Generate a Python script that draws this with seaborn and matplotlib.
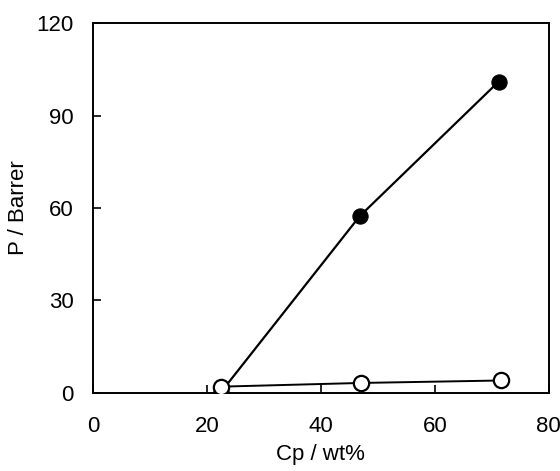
import matplotlib
matplotlib.use("Agg")
import matplotlib.pyplot as plt
import seaborn as sns
import pandas as pd

# data
cp_filled = [22.5, 46.8, 71.2]
p_filled = [0.3, 57.3, 101.0]
cp_open = [22.5, 47.0, 71.6]
p_open = [2.0, 3.2, 4.0]

x_ticks = [0, 20, 40, 60, 80]
y_ticks = [0, 30, 60, 90, 120]

sns.set_style("white")
plt.rcParams['font.family'] = ['Liberation Sans', 'DejaVu Sans']
plt.rcParams['text.color'] = 'black'
plt.rcParams['axes.labelcolor'] = 'black'
plt.rcParams['xtick.color'] = 'black'
plt.rcParams['ytick.color'] = 'black'

df_filled = pd.DataFrame({"Cp": cp_filled, "P": p_filled})
df_open = pd.DataFrame({"Cp": cp_open, "P": p_open})

fig = plt.figure(figsize=(5.6, 4.71), dpi=100)
ax = fig.add_axes([0.166, 0.166, 0.814, 0.785])

sns.lineplot(data=df_open, x="Cp", y="P", ax=ax, color="black", lw=1.4,
             marker="o", markersize=11, markerfacecolor="white",
             markeredgecolor="black", markeredgewidth=1.6, zorder=3)
sns.lineplot(data=df_filled, x="Cp", y="P", ax=ax, color="black", lw=1.6,
             marker="o", markersize=11, markerfacecolor="black",
             markeredgecolor="black", zorder=2)

ax.set_xlim(0, 80)
ax.set_ylim(0, 120)
ax.set_xticks(x_ticks)
ax.set_yticks(y_ticks)
ax.tick_params(direction="in", length=6, width=1.2, labelsize=16,
               colors="black", bottom=True, left=True, top=False, right=False)
ax.tick_params(axis="x", pad=17)
ax.tick_params(axis="y", pad=14)
ax.set_xlabel("Cp / wt%", fontsize=16, labelpad=5, color="black")
ax.set_ylabel("P / Barrer", fontsize=16, labelpad=5, color="black")
for s in ax.spines.values():
    s.set_visible(True)
    s.set_color("black")
    s.set_linewidth(1.4)

fig.savefig("out.png", dpi=100)
